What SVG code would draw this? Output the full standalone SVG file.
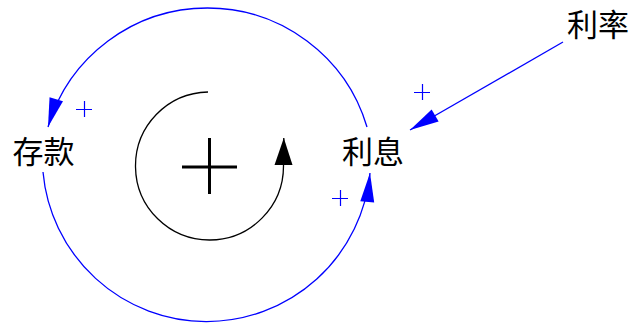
<svg xmlns="http://www.w3.org/2000/svg" width="631" height="324" viewBox="0 0 631 324">
<style>
.lbl{font-family:"Noto Sans CJK SC","Noto Sans CJK JP",sans-serif;font-size:31px;fill:#000;text-anchor:middle}
.blue{fill:none;stroke:#0000ff;stroke-width:1.3}
.blk{fill:none;stroke:#000;stroke-width:1.3}
.pol{stroke:#0000ff;stroke-width:1.2;fill:none}
.loop{stroke:#000;stroke-width:3;fill:none}
</style>
<defs>
<marker id="ab" markerUnits="userSpaceOnUse" viewBox="-30 -10 31 20" markerWidth="31" markerHeight="20" refX="0" refY="0" orient="auto">
<path d="M0,0 L-29,-7 L-29,7 Z" fill="#0000ff"/>
</marker>
<marker id="ak" markerUnits="userSpaceOnUse" viewBox="-30 -10 31 20" markerWidth="31" markerHeight="20" refX="0" refY="0" orient="auto">
<path d="M0,0 L-27,-9 L-27,9 Z" fill="#000"/>
</marker>
</defs>
<g id="connectors">
<path class="blue" d="M367,127 A166.4,166.4 0 0 0 48,127" marker-end="url(#ab)"/>
<path class="blue" d="M43,172 A164.2,164.2 0 0 0 370,173" marker-end="url(#ab)"/>
<path class="blue" d="M563,42 L410,130" marker-end="url(#ab)"/>
<path class="blk" d="M208,92 A74,74 0 1 0 283.5,166 L283.8,138" marker-end="url(#ak)"/>
</g>
<g id="polarities">
<path class="pol" d="M76,109.5 H92 M84.5,101 V117"/>
<path class="pol" d="M414,92.5 H430 M422.5,84 V100"/>
<path class="pol" d="M332,198.5 H348 M340.5,190 V206"/>
</g>
<g id="loop-marker">
<path class="loop" d="M182,167 H237 M209.5,138 V194"/>
</g>
<g id="node-deposit"><text class="lbl" x="43.5" y="163">存款</text></g>
<g id="node-interest"><text class="lbl" x="373" y="163">利息</text></g>
<g id="node-rate"><text class="lbl" x="598" y="36">利率</text></g>
</svg>
